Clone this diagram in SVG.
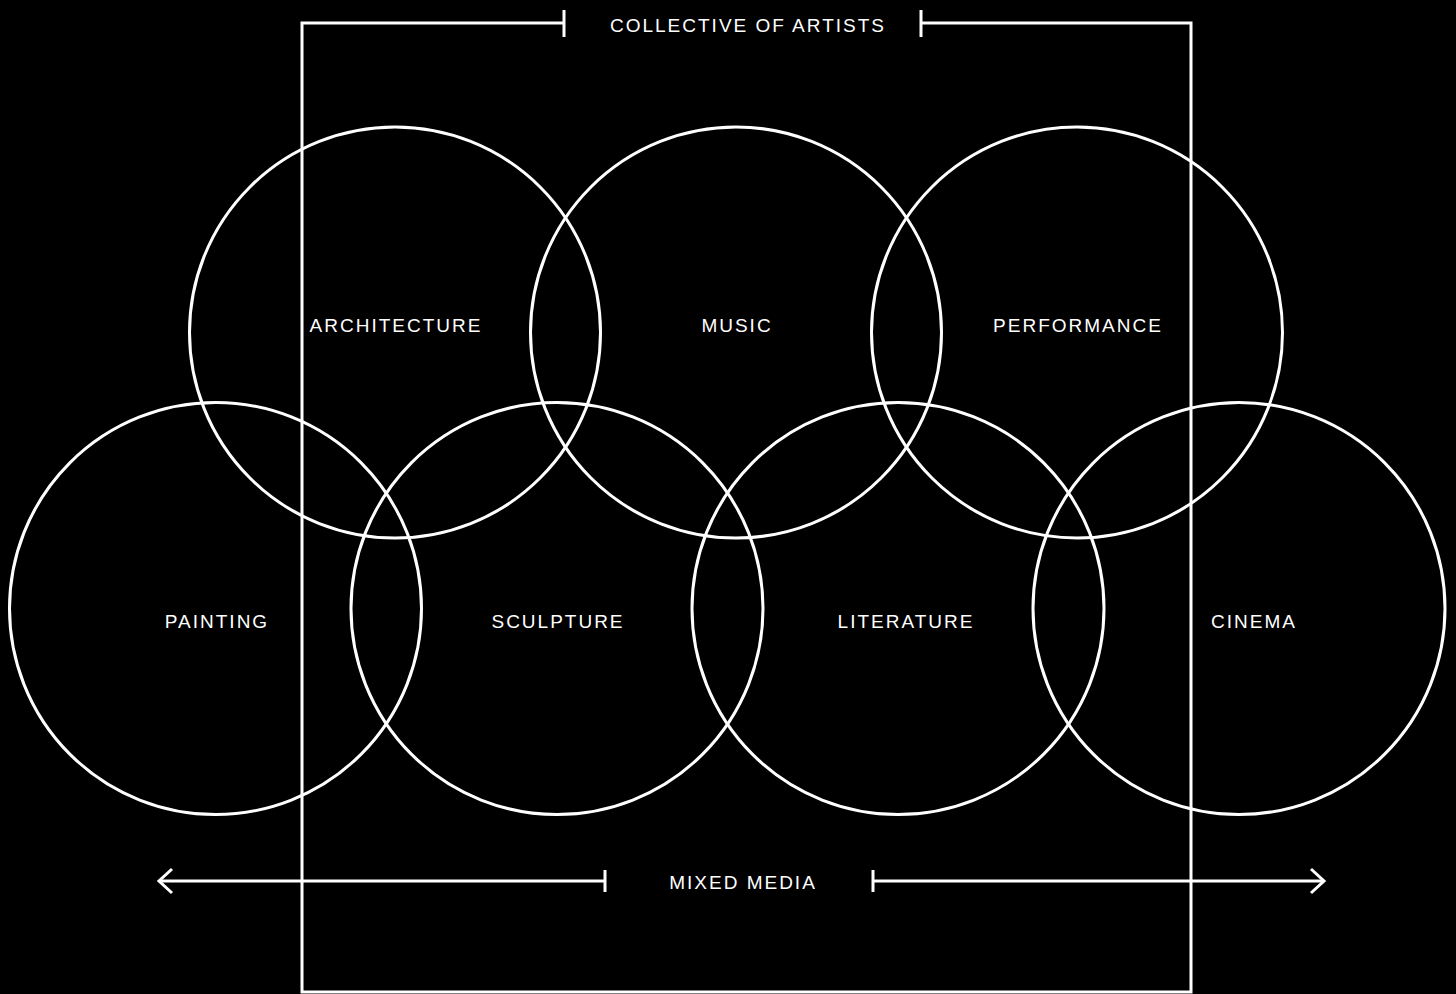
<svg xmlns="http://www.w3.org/2000/svg" width="1456" height="994" viewBox="0 0 1456 994">
<defs>
<style>
.ln{fill:none;stroke:#fff;stroke-width:3}
.c{fill:none;stroke:#fff;stroke-width:3}
.t{fill:#fff;font-family:"Liberation Sans",Arial,sans-serif;font-size:19px;letter-spacing:2px;text-anchor:middle}
</style>
</defs>
<rect width="1456" height="994" fill="#000"/>
<g id="connectors">
<polyline class="ln" points="564,23 302,23 302,992 1191,992 1191,23 921,23"/>
<line class="ln" x1="564" y1="10" x2="564" y2="37" stroke-width="4"/>
<line class="ln" x1="921" y1="10" x2="921" y2="37" stroke-width="4"/>
<line class="ln" x1="160" y1="881" x2="605" y2="881"/>
<line class="ln" x1="605" y1="870" x2="605" y2="892" stroke-width="4"/>
<polyline class="ln" points="172,869 159,881 172,893"/>
<line class="ln" x1="873" y1="881" x2="1323" y2="881"/>
<line class="ln" x1="873" y1="870" x2="873" y2="892" stroke-width="4"/>
<polyline class="ln" points="1311,869 1324,881 1311,893"/>
</g>
<g id="architecture"><circle class="c" cx="395" cy="332.5" r="205.5"/><text class="t" x="396" y="332">ARCHITECTURE</text></g>
<g id="music"><circle class="c" cx="736" cy="332.5" r="205.5"/><text class="t" x="737" y="332">MUSIC</text></g>
<g id="performance"><circle class="c" cx="1077" cy="332.5" r="205.5"/><text class="t" x="1078" y="332">PERFORMANCE</text></g>
<g id="painting"><circle class="c" cx="215.5" cy="608.5" r="206"/><text class="t" x="217" y="628">PAINTING</text></g>
<g id="sculpture"><circle class="c" cx="557" cy="608.5" r="206"/><text class="t" x="558" y="628">SCULPTURE</text></g>
<g id="literature"><circle class="c" cx="898" cy="608.5" r="206"/><text class="t" x="906" y="628">LITERATURE</text></g>
<g id="cinema"><circle class="c" cx="1239" cy="608.5" r="206"/><text class="t" x="1254" y="628">CINEMA</text></g>
<g id="labels">
<text class="t" x="748" y="32">COLLECTIVE OF ARTISTS</text>
<text class="t" x="743" y="889">MIXED MEDIA</text>
</g>
</svg>
